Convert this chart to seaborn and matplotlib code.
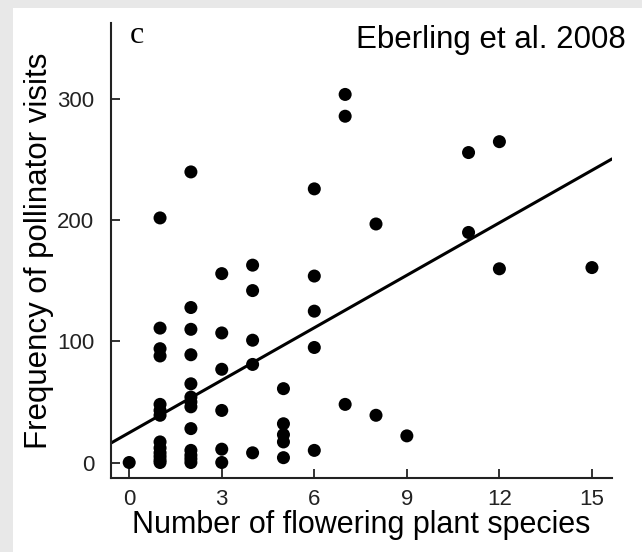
import numpy as np
import pandas as pd
import matplotlib
matplotlib.use('Agg')
import matplotlib.pyplot as plt
import seaborn as sns
from matplotlib.patches import Rectangle

# values (Eberling et al. 2008, panel c)
species_0 = [0]
visits_0 = [0]
species_1 = [1] * 13
visits_1 = [202, 111, 94, 88, 48, 43, 39, 17, 12, 8, 5, 2, 0]
species_2 = [2] * 13
visits_2 = [240, 128, 110, 89, 65, 54, 50, 46, 28, 10, 6, 3, 0]
species_3 = [3] * 6
visits_3 = [156, 107, 77, 43, 11, 0]
species_4 = [4] * 5
visits_4 = [163, 142, 101, 81, 8]
species_5 = [5] * 5
visits_5 = [61, 32, 23, 17, 4]
species_6 = [6] * 5
visits_6 = [226, 154, 125, 95, 10]
species_hi = [7, 7, 7, 8, 8, 9, 11, 11, 12, 12, 15]
visits_hi = [304, 286, 48, 197, 39, 22, 256, 190, 265, 160, 161]

# fitted line as drawn in the figure
fit_intercept = 24.6
fit_slope = 14.45

xticks = [0, 3, 6, 9, 12, 15]
yticks = [0, 100, 200, 300]

df = pd.DataFrame({
    'species': species_0 + species_1 + species_2 + species_3 + species_4
               + species_5 + species_6 + species_hi,
    'visits': visits_0 + visits_1 + visits_2 + visits_3 + visits_4
              + visits_5 + visits_6 + visits_hi,
})

sns.set_style('white')
plt.rcParams['font.family'] = ['Liberation Sans', 'DejaVu Sans']
plt.rcParams['text.color'] = 'black'

W, H = 642, 552
fig = plt.figure(figsize=(W / 100, H / 100), dpi=100)
fig.patch.set_facecolor('#e8e8e8')
fig.patches.append(Rectangle((13 / W, 0), 1, 1 - 8 / H, transform=fig.transFigure,
                             facecolor='white', edgecolor='none', zorder=-5))

ax = fig.add_axes([111 / W, 1 - 478 / H, (612 - 111) / W, (478 - 23) / H])
ax.set_facecolor('none')

sns.scatterplot(data=df, x='species', y='visits', ax=ax, color='black',
                s=88, edgecolor='none', zorder=3)
ax.axline((0, fit_intercept), slope=fit_slope, color='black', lw=2.2, zorder=2)

ax.set_xlim(-0.59, 15.65)
ax.set_ylim(-12.8, 363)
ax.set_xticks(xticks)
ax.set_yticks(yticks)

for side in ['top', 'right']:
    ax.spines[side].set_visible(False)
for side in ['left', 'bottom']:
    ax.spines[side].set_color('#222222')
    ax.spines[side].set_linewidth(1.5)

ax.tick_params(axis='both', direction='in', length=6.5, width=1.3, color='#222222',
               labelsize=16, labelcolor='#222222', bottom=True, left=True)
ax.tick_params(axis='x', pad=8)
ax.tick_params(axis='y', pad=12)

ax.set_xlabel('Number of flowering plant species', fontsize=22, color='black')
ax.set_ylabel('Frequency of pollinator visits', fontsize=22.5, color='black')
ax.xaxis.set_label_coords(0.5, -0.071)
ax.yaxis.set_label_coords(-0.114, 0.5)

fig.text(130 / W, 1 - 43 / H, 'c', family='Liberation Serif', fontsize=23,
         ha='left', va='baseline')
fig.text(626 / W, 1 - 48 / H, 'Eberling et al. 2008', fontsize=22.5,
         ha='right', va='baseline')

fig.savefig('out.png', dpi=100)
